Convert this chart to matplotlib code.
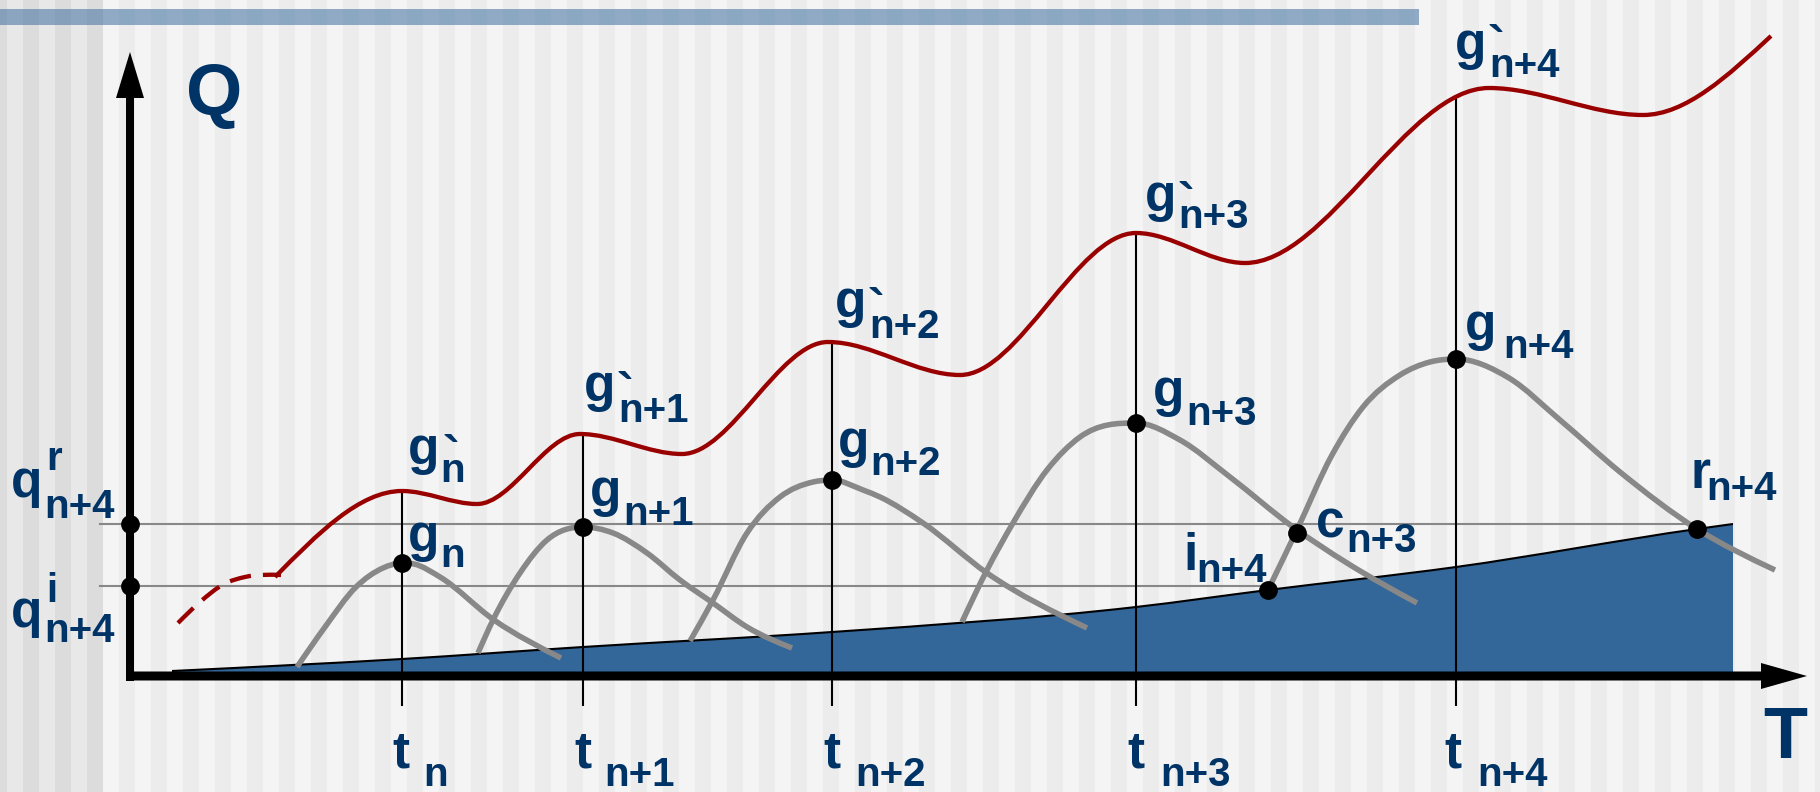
import numpy as np
import matplotlib
matplotlib.use('Agg')
import matplotlib.pyplot as plt
from matplotlib.path import Path
from matplotlib.patches import PathPatch, Rectangle

plt.rcParams['font.family'] = ['Liberation Sans', 'DejaVu Sans']

# --- data (T along the time axis, Q up the quantity axis) ---
t_subs = ['n', 'n+1', 'n+2', 'n+3', 'n+4']
t_pos = [27.2, 45.3, 70.2, 100.6, 132.6]
t_top = [18.5, 24.0, 33.3, 44.4, 57.9]
g_peak = [11.3, 14.9, 19.6, 25.3, 31.7]

q_r = 15.2
q_i = 9.0

red_dash_T = [4.8, 7.0, 9.4, 11.5, 15.1]
red_dash_Q = [5.3, 7.4, 9.2, 9.9, 10.1]

# start, peaks / troughs, end of the upper curve
red_T = [14.5, 27.2, 34.7, 45.0, 55.2, 69.8, 83.0, 100.6, 111.5, 135.9, 151.3, 164.1]
red_Q = [9.9, 18.5, 17.2, 24.2, 22.2, 33.4, 30.1, 44.3, 41.3, 58.8, 56.1, 64.0]

g0_T = [16.7, 19.5, 22.6, 25.3, 27.2, 28.4, 31.0, 36.4, 43.1]
g0_Q = [0.9, 4.9, 8.9, 10.8, 11.3, 11.2, 9.9, 5.6, 1.8]
g1_T = [34.8, 36.3, 39.0, 41.7, 45.3, 48.3, 51.7, 55.0, 58.3, 61.7, 66.2]
g1_Q = [2.3, 5.6, 10.3, 13.6, 14.9, 14.3, 12.3, 9.6, 7.3, 4.9, 2.8]
g2_T = [56.0, 58.3, 61.7, 65.0, 68.3, 70.2, 73.3, 75.0, 79.3, 85.7, 95.7]
g2_Q = [3.5, 7.6, 14.3, 17.9, 19.4, 19.6, 18.6, 17.9, 15.3, 10.3, 4.8]
g3_T = [83.2, 85.7, 88.3, 91.7, 95.0, 100.6, 105.0, 110.0, 116.3, 121.7, 128.7]
g3_Q = [5.4, 10.6, 15.3, 20.6, 23.9, 25.3, 23.6, 19.9, 14.9, 11.3, 7.3]
g4_T = [113.8, 116.6, 120.2, 123.3, 127.0, 130.0, 132.6, 137.9, 143.0, 149.0,
        156.7, 164.5]
g4_Q = [8.6, 14.4, 22.1, 26.9, 30.1, 31.4, 31.7, 29.8, 25.6, 20.4, 14.7, 10.6]

base_T = [4.2, 27.2, 45.3, 70.2, 100.6, 113.8, 132.6, 156.7, 160.3]
base_Q = [0.5, 1.7, 2.9, 4.4, 6.9, 8.6, 10.9, 14.7, 15.2]

c_pt = (116.7, 14.3)
i_pt = (113.8, 8.6)
r_pt = (156.7, 14.7)

NAVY = '#003366'
RED = '#990000'
GRAY = '#888888'
BLUE = '#336699'


def smooth(xs, ys):
    # cubic Hermite through the read points, flat at local extrema
    x = np.asarray(xs, float)
    y = np.asarray(ys, float)
    h = np.diff(x)
    d = np.diff(y) / h
    m = np.empty_like(y)
    for i in range(1, len(x) - 1):
        if d[i - 1] * d[i] <= 0:
            m[i] = 0.0
        else:
            m[i] = (d[i - 1] * h[i] + d[i] * h[i - 1]) / (h[i - 1] + h[i])
    if len(x) > 2:
        m[0] = (3 * d[0] - m[1]) / 2
        m[-1] = (3 * d[-1] - m[-2]) / 2
    else:
        m[0] = m[-1] = d[0]
    verts = [(x[0], y[0])]
    codes = [Path.MOVETO]
    for i in range(len(x) - 1):
        verts += [(x[i] + h[i] / 3, y[i] + m[i] * h[i] / 3),
                  (x[i + 1] - h[i] / 3, y[i + 1] - m[i + 1] * h[i] / 3),
                  (x[i + 1], y[i + 1])]
        codes += [Path.CURVE4] * 3
    return verts, codes


def curve(ax, xs, ys, **kw):
    v, c = smooth(xs, ys)
    ax.add_patch(PathPatch(Path(v, c), fill=False, capstyle='butt', **kw))


fig = plt.figure(figsize=(18.2, 7.92), dpi=100, facecolor='#f4f4f4')
ax = fig.add_axes([0, 0, 1, 1])
ax.set_xlim(-13.0, 169.0)
ax.set_ylim(-11.6, 67.6)
ax.axis('off')

# striped slide background
ax.axvspan(-13.0, -2.7, color='#e8e8e8', zorder=0, lw=0)
for x0 in np.arange(-13.9, -2.7, 3.2):
    ax.axvspan(max(x0, -13.0), x0 + 1.6, color='#dcdcdc', zorder=0, lw=0)
for x0 in np.arange(-1.1, 169.0, 3.2):
    ax.axvspan(x0, x0 + 1.6, color='#ececec', zorder=0, lw=0)
ax.add_patch(Rectangle((-13.0, 65.1), 141.9, 1.6, color='#4d79a6', alpha=0.6,
                       lw=0, zorder=1))

# blue area under the base curve
v, c = smooth(base_T, base_Q)
fill_v = v + [(base_T[-1], 0.0), (base_T[0], 0.0), v[0]]
fill_c = c + [Path.LINETO, Path.LINETO, Path.CLOSEPOLY]
ax.add_patch(PathPatch(Path(fill_v, fill_c), fc=BLUE, ec='none', zorder=2))
curve(ax, base_T, base_Q, ec='black', lw=1.5, zorder=3)

# reference lines
ax.plot([-3.0, r_pt[0]], [q_r, q_r], color=GRAY, lw=1.5, zorder=3)
ax.plot([-3.0, i_pt[0]], [q_i, q_i], color=GRAY, lw=1.5, zorder=3)
ax.vlines(t_pos, -3.0, t_top, color='black', lw=1.5, zorder=3)

# curves
for gx, gy in [(g0_T, g0_Q), (g1_T, g1_Q), (g2_T, g2_Q), (g3_T, g3_Q), (g4_T, g4_Q)]:
    curve(ax, gx, gy, ec=GRAY, lw=4.0, zorder=4)
curve(ax, red_T, red_Q, ec=RED, lw=3.1, zorder=4)
curve(ax, red_dash_T, red_dash_Q, ec=RED, lw=3.1, ls=(0, (5.0, 2.8)), zorder=4)

# axes arrows
ax.arrow(-0.4, 0.0, 168.1, 0.0, width=0.9, head_width=2.6, head_length=4.6,
         length_includes_head=True, fc='black', ec='none', zorder=5)
ax.arrow(0.0, -0.5, 0.0, 62.9, width=0.8, head_width=2.8, head_length=4.6,
         length_includes_head=True, fc='black', ec='none', zorder=5)

# points
dot = dict(ls='none', marker='o', ms=12.5, color='black', zorder=6)
ax.plot(t_pos, g_peak, **dot)
ax.plot([0, 0], [q_r, q_i], **dot)
ax.plot([c_pt[0], i_pt[0], r_pt[0]], [c_pt[1], i_pt[1], r_pt[1]], **dot)


def txt(x, y, s, size):
    ax.text(x, y, s, fontsize=size, fontweight='bold', color=NAVY,
            ha='left', va='baseline', zorder=7)


BIG, SUB = 37, 29

# (main, main pos, sub, sub pos, sup, sup pos)
labels = [
    ('g', (27.8, 21.2), 'n', (31.0, 19.4), '`', (31.2, 20.4)),
    ('g', (27.8, 12.5), 'n', (31.0, 10.9), None, None),
    ('g', (45.4, 27.5), 'n+1', (48.8, 25.4), '`', (48.6, 26.7)),
    ('g', (46.0, 17.0), 'n+1', (49.3, 15.1), None, None),
    ('g', (70.5, 35.9), 'n+2', (73.9, 33.8), '`', (73.7, 35.1)),
    ('g', (70.8, 21.9), 'n+2', (74.0, 20.1), None, None),
    ('g', (101.5, 46.5), 'n+3', (104.8, 44.8), '`', (104.7, 45.7)),
    ('g', (102.3, 27.0), 'n+3', (105.6, 25.1), None, None),
    ('g', (132.5, 61.7), 'n+4', (135.9, 59.9), '`', (135.7, 61.4)),
    ('g', (133.5, 33.6), 'n+4', (137.3, 31.8), None, None),
    ('c', (118.6, 13.8), 'n+3', (121.6, 12.4), None, None),
    ('i', (105.3, 10.6), 'n+4', (106.6, 9.4), None, None),
    ('r', (156.0, 18.8), 'n+4', (157.6, 17.6), None, None),
    ('q', (-11.9, 17.9), 'n+4', (-8.6, 15.8), 'r', (-8.4, 20.6)),
    ('q', (-11.9, 4.9), 'n+4', (-8.6, 3.4), 'i', (-8.4, 7.4)),
]
for main, mp, sub, sp, sup, up in labels:
    txt(mp[0], mp[1], main, BIG)
    txt(sp[0], sp[1], sub, SUB)
    if sup:
        txt(up[0], up[1], sup, BIG if sup == '`' else SUB)

t_main_x = [26.2, 44.4, 69.3, 99.7, 131.4]
t_sub_x = [29.3, 47.4, 72.5, 103.0, 134.7]
for mx, sx, s in zip(t_main_x, t_sub_x, t_subs):
    txt(mx, -9.2, 't', BIG)
    txt(sx, -11.0, s, SUB)

txt(5.6, 56.1, 'Q', 52)
txt(163.3, -8.2, 'T', 52)

fig.savefig('out.png', dpi=100, facecolor=fig.get_facecolor())
